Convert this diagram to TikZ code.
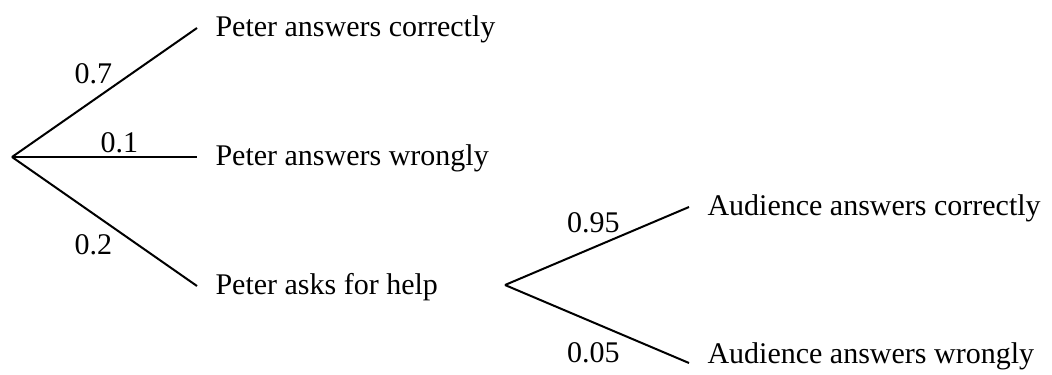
\documentclass[tikz,border=0pt]{standalone}
\usepackage{fontspec}
\setmainfont{Liberation Serif}

\begin{document}
\begin{tikzpicture}[x=0.4pt,y=-0.4pt,line width=0.8pt,
  font=\fontsize{12}{14}\selectfont,
  leaf/.style={anchor=west,inner xsep=7pt,inner ysep=0pt,
               text height=0.9em,text depth=0.22em},
  prob/.style={inner sep=0pt}]
\useasboundingbox (0,0) rectangle (1052,374);
% first stage
\coordinate (root) at (12,157);
\node[leaf] (pc) at (197,28)  {Peter answers correctly};
\node[leaf] (pw) at (197,157) {Peter answers wrongly};
\node[leaf] (ph) at (197,286) {Peter asks for help};
\draw (root) -- node[prob,pos=0.44,above=6.2pt] {0.7} (pc.west);
\draw (root) -- node[prob,pos=0.58,above=1.2pt] {0.1} (pw.west);
\draw (root) -- node[prob,pos=0.44,below=7.8pt] {0.2} (ph.west);
% second stage
\coordinate (split) at (505,285);
\node[leaf] (ac) at (689,207) {Audience answers correctly};
\node[leaf] (aw) at (689,355) {Audience answers wrongly};
\draw (split) -- node[prob,pos=0.48,above=5.6pt] {0.95} (ac.west);
\draw (split) -- node[prob,pos=0.48,below=7.6pt] {0.05} ([yshift=-3.2pt]aw.west);
\end{tikzpicture}
\end{document}
